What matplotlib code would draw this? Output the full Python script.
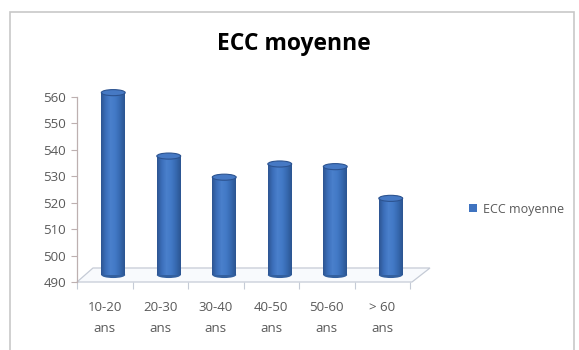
import numpy as np
import matplotlib
matplotlib.use('Agg')
import matplotlib.pyplot as plt
from matplotlib.patches import Ellipse, Polygon, Rectangle
from matplotlib.transforms import ScaledTranslation
from matplotlib.colors import LinearSegmentedColormap

# ECC moyenne par tranche d'age
categories = ['10-20\nans', '20-30\nans', '30-40\nans', '40-50\nans', '50-60\nans', '> 60\nans']
ecc_moyenne = [559, 535, 527, 532, 531, 519]
series_name = 'ECC moyenne'
y_ticks = [490, 500, 510, 520, 530, 540, 550, 560]

plt.rcParams['font.family'] = ['Open Sans', 'DejaVu Sans']
text_grey = '#595959'

fig = plt.figure(figsize=(5.79, 3.5), dpi=100)
fig.patch.set_facecolor('white')

# cadre de la zone de graphique
fig.patches.append(Rectangle((10 / 579, -0.1), 564 / 579, 1.1 - 12 / 350,
                             transform=fig.transFigure, fill=False,
                             edgecolor='#c8c8c8', lw=1.2))

ax = fig.add_axes([77 / 579, 68 / 350, 333 / 579, 185 / 350])
ax.set_facecolor('none')

# decalage pour la profondeur 3D (barres au milieu du plancher)
depth = ax.transData + ScaledTranslation(8.5 / 100, 7 / 100, fig.dpi_scale_trans)

# plancher
floor = Polygon([(0, 0), (1.006, 0), (1.06, 0.0757), (0.048, 0.0757)],
                closed=True, transform=ax.transAxes, facecolor='#f8fafd',
                edgecolor='#c5cbd6', lw=0.9, clip_on=False, zorder=1)
ax.add_patch(floor)

cyl = LinearSegmentedColormap.from_list(
    'cyl', ['#2d5592', '#3c6fbb', '#4a80cc', '#4279c6', '#3669b0', '#2c5591'])
grad = np.linspace(0, 1, 64).reshape(1, -1)

x = np.arange(len(categories))
w = 0.43
eh = 2.3
base = y_ticks[0]
heights = [v - base for v in ecc_moyenne]

bars = ax.bar(x, heights, width=w, bottom=base, color='#3f73c0',
              transform=depth, zorder=3, clip_on=False, label=series_name)

for xi, v, b in zip(x, ecc_moyenne, bars):
    # fond arrondi du cylindre
    ax.add_patch(Ellipse((xi, base), w, eh, transform=depth,
                         facecolor='#33609f', edgecolor='none',
                         zorder=2.9, clip_on=False))
    im = ax.imshow(grad, cmap=cyl, extent=(xi - w / 2, xi + w / 2, base, v),
                   aspect='auto', transform=depth, zorder=3.1)
    im.set_clip_path(b)
    # dessus du cylindre
    ax.add_patch(Ellipse((xi, v), w, eh, transform=depth,
                         facecolor='#4679c4', edgecolor='#2c5390', lw=0.8,
                         zorder=3.2, clip_on=False))

ax.set_xlim(-0.5, len(categories) - 0.5)
ax.set_ylim(base, y_ticks[-1])

for side in ['top', 'right', 'bottom']:
    ax.spines[side].set_visible(False)
ax.spines['left'].set_color('#bdb0b0')
ax.spines['left'].set_linewidth(0.9)

ax.set_yticks(y_ticks)
ax.tick_params(axis='y', direction='out', length=4, width=0.8,
               color='#bdb0b0', labelsize=9.5, labelcolor=text_grey, pad=4)

ax.set_xticks(x)
ax.set_xticklabels(categories, linespacing=1.75)
ax.set_xticks(np.arange(-0.5, len(categories)), minor=True)
ax.tick_params(axis='x', which='major', length=0, labelsize=9.5,
               labelcolor=text_grey, pad=14)
ax.tick_params(axis='x', which='minor', direction='out', length=5,
               width=0.8, color='#c5cbd6')

fig.text(294 / 579, 1 - 44 / 350, 'ECC moyenne', ha='center', va='center',
         fontsize=16.5, fontweight='bold', color='black')

fig.legend(handles=[bars], labels=[series_name], loc='center left',
           bbox_to_anchor=(458 / 579, 1 - 209 / 350), frameon=False,
           fontsize=9, handlelength=0.6, handleheight=0.6,
           handletextpad=0.5, labelcolor=text_grey)

fig.savefig('out.png', dpi=100, facecolor='white')
